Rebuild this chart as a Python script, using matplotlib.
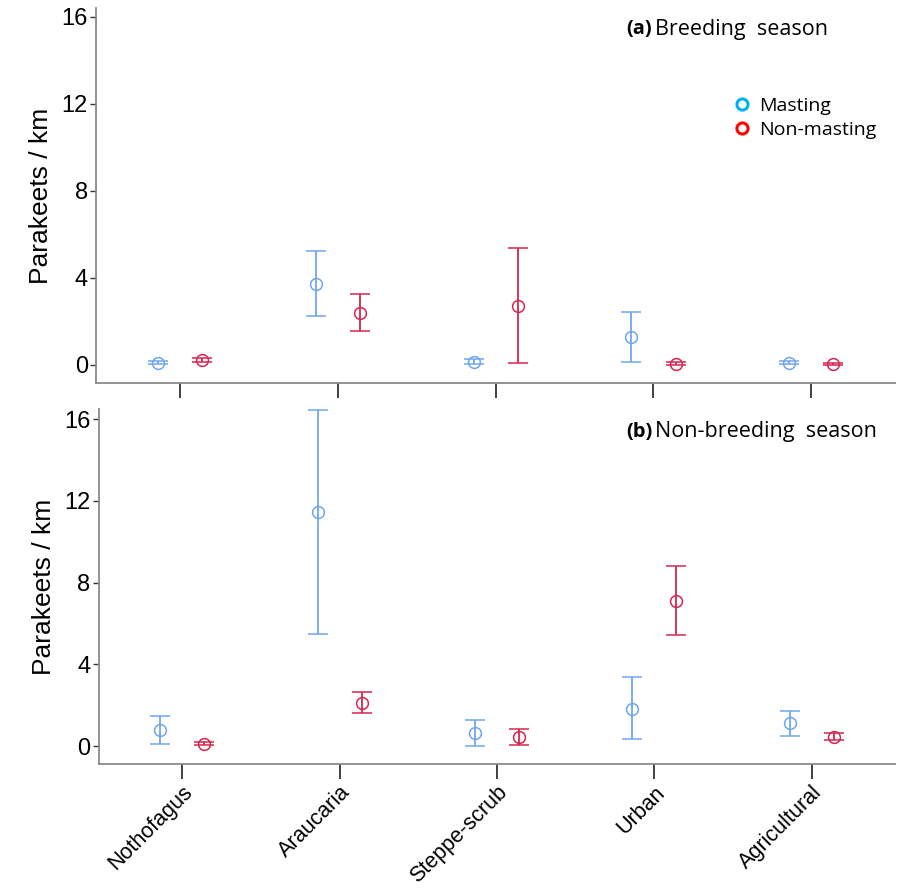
import matplotlib

matplotlib.use("Agg")
import matplotlib.pyplot as plt
import numpy as np
from matplotlib.lines import Line2D

habitats = ["Nothofagus", "Araucaria", "Steppe-scrub", "Urban", "Agricultural"]

# (a) breeding season
br_mast = [0.10, 3.73, 0.14, 1.29, 0.10]
br_mast_lo = [0.02, 2.25, 0.02, 0.14, 0.03]
br_mast_hi = [0.20, 5.24, 0.26, 2.44, 0.20]
br_non = [0.23, 2.39, 2.71, 0.05, 0.05]
br_non_lo = [0.14, 1.56, 0.09, 0.00, 0.00]
br_non_hi = [0.33, 3.26, 5.38, 0.12, 0.11]

# (b) non-breeding season
nb_mast = [0.78, 11.45, 0.65, 1.84, 1.12]
nb_mast_lo = [0.11, 5.51, 0.00, 0.33, 0.49]
nb_mast_hi = [1.48, 16.47, 1.27, 3.39, 1.73]
nb_non = [0.13, 2.12, 0.44, 7.11, 0.46]
nb_non_lo = [0.06, 1.63, 0.08, 5.42, 0.29]
nb_non_hi = [0.21, 2.63, 0.82, 8.81, 0.64]

yticks = [0, 4, 8, 12, 16]

C_MAST = "#6fa6ec"
C_NON = "#d6264f"

plt.rcParams["font.family"] = ["Liberation Sans", "DejaVu Sans"]
ANNOT_FONT = ["Open Sans", "DejaVu Sans"]


def draw_panel(ax, mast, mlo, mhi, non, nlo, nhi, ylim):
    x = np.arange(len(habitats))
    off = 0.14
    for xs, v, lo, hi, c in [
        (x - off, mast, mlo, mhi, C_MAST),
        (x + off, non, nlo, nhi, C_NON),
    ]:
        v = np.asarray(v)
        err = [v - np.asarray(lo), np.asarray(hi) - v]
        ax.errorbar(
            xs, v, yerr=err, fmt="o", mfc="none", mec=c, color=c,
            ms=8.5, mew=1.1, elinewidth=1.3, capsize=7.5, capthick=1.3,
        )
    ax.set_xlim(-0.53, 4.53)
    ax.set_ylim(*ylim)
    ax.set_yticks(yticks)
    ax.set_xticks(x)
    for s in ["top", "right"]:
        ax.spines[s].set_visible(False)
    for s in ["left", "bottom"]:
        ax.spines[s].set_color("#8a8a8a")
        ax.spines[s].set_linewidth(1.3)
    ax.tick_params(axis="y", direction="out", length=4, width=1, labelsize=17,
                   color="#333333", pad=2)
    ax.tick_params(axis="x", direction="out", length=11, width=1.3,
                   color="#333333", pad=2)
    ax.set_ylabel("Parakeets / km", fontsize=19, labelpad=6)


fig = plt.figure(figsize=(8.99, 8.90), dpi=100)
ax1 = fig.add_axes([0.107, 0.5697, 0.8886, 0.4213])
ax2 = fig.add_axes([0.110, 0.1416, 0.8856, 0.3988])

draw_panel(ax1, br_mast, br_mast_lo, br_mast_hi, br_non, br_non_lo, br_non_hi,
           (-0.83, 16.41))
ax1.set_xticklabels([])

draw_panel(ax2, nb_mast, nb_mast_lo, nb_mast_hi, nb_non, nb_non_lo, nb_non_hi,
           (-0.87, 16.5))
ax2.set_xticklabels(habitats, rotation=45, ha="right", rotation_mode="anchor",
                    fontsize=15.5)

fig.text(0.697, 0.967, "(a)", fontsize=14.5, fontweight="bold", va="center",
         family=ANNOT_FONT)
fig.text(0.729, 0.967, "Breeding  season", fontsize=15.5, va="center",
         family=ANNOT_FONT)
fig.text(0.697, 0.515, "(b)", fontsize=14.5, fontweight="bold", va="center",
         family=ANNOT_FONT)
fig.text(0.729, 0.515, "Non-breeding  season", fontsize=15.5, va="center",
         family=ANNOT_FONT)

handles = [
    Line2D([], [], ls="none", marker="o", mfc="none", mec="#00b0f0", mew=2.2, ms=8),
    Line2D([], [], ls="none", marker="o", mfc="none", mec="#ff0000", mew=2.2, ms=8),
]
ax1.legend(handles, ["Masting", "Non-masting"], loc="upper left",
           bbox_to_anchor=(0.772, 0.81), frameon=False, handletextpad=0.3,
           handlelength=1.2, labelspacing=0.3,
           prop={"family": ANNOT_FONT, "size": 14})

fig.savefig("out.png", dpi=100)
